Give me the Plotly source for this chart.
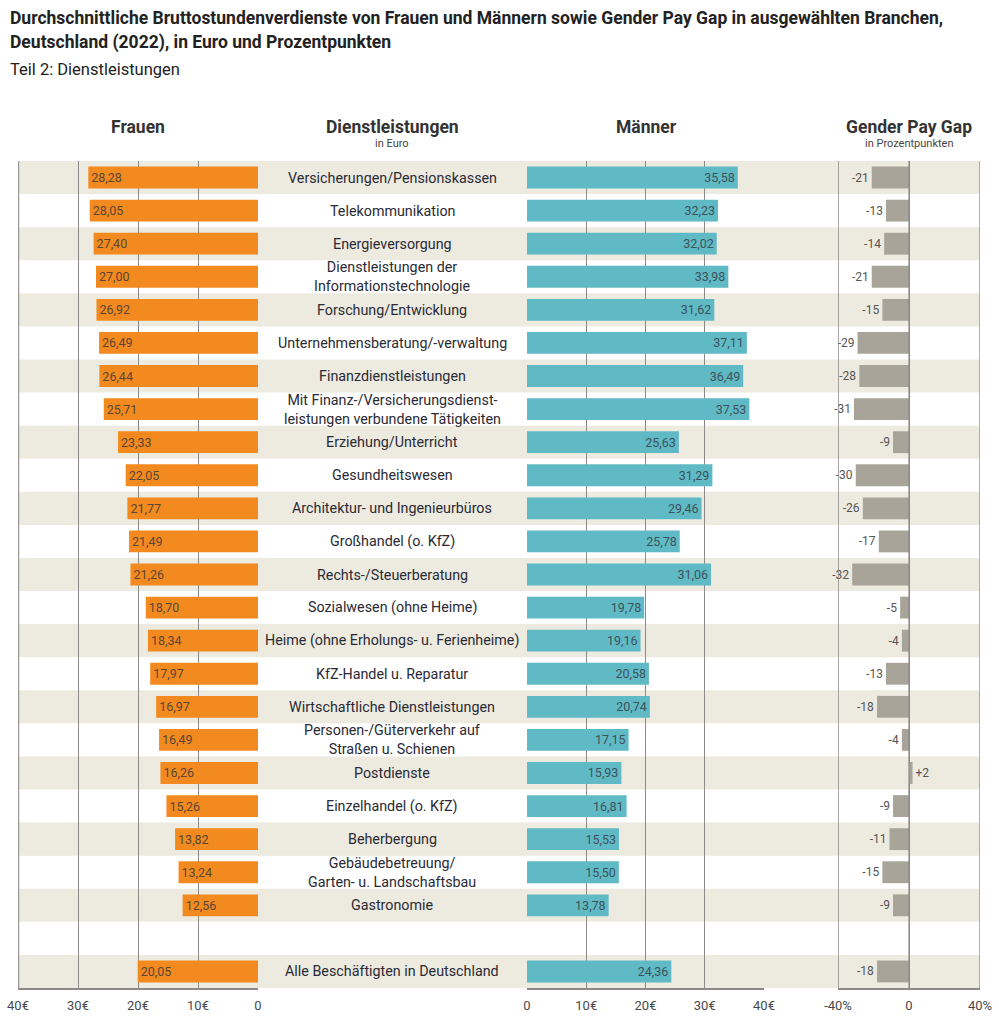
import plotly.graph_objects as go

categories = [
    "Versicherungen/Pensionskassen",
    "Telekommunikation",
    "Energieversorgung",
    "Dienstleistungen der<br>Informationstechnologie",
    "Forschung/Entwicklung",
    "Unternehmensberatung/-verwaltung",
    "Finanzdienstleistungen",
    "Mit Finanz-/Versicherungsdienst-<br>leistungen verbundene Tätigkeiten",
    "Erziehung/Unterricht",
    "Gesundheitswesen",
    "Architektur- und Ingenieurbüros",
    "Großhandel (o. KfZ)",
    "Rechts-/Steuerberatung",
    "Sozialwesen (ohne Heime)",
    "Heime (ohne Erholungs- u. Ferienheime)",
    "KfZ-Handel u. Reparatur",
    "Wirtschaftliche Dienstleistungen",
    "Personen-/Güterverkehr auf<br>Straßen u. Schienen",
    "Postdienste",
    "Einzelhandel (o. KfZ)",
    "Beherbergung",
    "Gebäudebetreuung/<br>Garten- u. Landschaftsbau",
    "Gastronomie",
    "",
    "Alle Beschäftigten in Deutschland",
]
frauen = [28.28, 28.05, 27.40, 27.00, 26.92, 26.49, 26.44, 25.71, 23.33, 22.05,
          21.77, 21.49, 21.26, 18.70, 18.34, 17.97, 16.97, 16.49, 16.26, 15.26,
          13.82, 13.24, 12.56, None, 20.05]
maenner = [35.58, 32.23, 32.02, 33.98, 31.62, 37.11, 36.49, 37.53, 25.63, 31.29,
           29.46, 25.78, 31.06, 19.78, 19.16, 20.58, 20.74, 17.15, 15.93, 16.81,
           15.53, 15.50, 13.78, None, 24.36]
gap = [-21, -13, -14, -21, -15, -29, -28, -31, -9, -30, -26, -17, -32, -5, -4,
       -13, -18, -4, 2, -9, -11, -15, -9, None, -18]

euro_ticks_left = [40, 30, 20, 10, 0]
euro_ticks_right = [0, 10, 20, 30, 40]
euro_ticktext_left = ["40€", "30€", "20€", "10€", "0"]
euro_ticktext_right = ["0", "10€", "20€", "30€", "40€"]
gap_ticks = [-40, 0, 40]
gap_ticktext = ["-40%", "0", "40%"]

FONT = "Roboto, Liberation Sans, sans-serif"
W, H = 999, 1025
TOP, BOT = 161, 988
PH = BOT - TOP

def px(x):
    return x / W

def py(y):
    return (BOT - y) / PH

def de(v):
    return "" if v is None else f"{v:.2f}".replace(".", ",")

def gp(v):
    if v is None:
        return ""
    return f"+{v}" if v > 0 else f"{v}"

idx = list(range(len(categories)))

ORANGE = "#F28A1F"
TEAL = "#5FBAC6"
GREY = "#A8A499"
BEIGE = "#EDEAE0"
GRID = "#8A8A8A"

fig = go.Figure()
fig.add_trace(go.Bar(
    y=idx, x=frauen, orientation="h", xaxis="x", yaxis="y",
    marker=dict(color=ORANGE, line=dict(width=0)), width=0.66,
    text=[de(v) for v in frauen], textposition="inside", insidetextanchor="end",
    textfont=dict(family=FONT, size=12.5, color="#5a4636"), showlegend=False,
    hoverinfo="skip",
))
fig.add_trace(go.Bar(
    y=idx, x=maenner, orientation="h", xaxis="x2", yaxis="y",
    marker=dict(color=TEAL, line=dict(width=0)), width=0.66,
    text=[de(v) for v in maenner], textposition="inside", insidetextanchor="end",
    textfont=dict(family=FONT, size=12.5, color="#3d5259"), showlegend=False,
    hoverinfo="skip",
))
fig.add_trace(go.Bar(
    y=idx, x=gap, orientation="h", xaxis="x3", yaxis="y",
    marker=dict(color=GREY, line=dict(width=0)), width=0.66,
    text=[gp(v) for v in gap], textposition="outside",
    textfont=dict(family=FONT, size=12, color="#555555"), showlegend=False,
    cliponaxis=False, hoverinfo="skip",
))

axis_common = dict(
    showgrid=True, gridcolor=GRID, gridwidth=1, zeroline=False,
    showline=True, linecolor="#8a8a8a", linewidth=1.5, ticks="",
    tickfont=dict(family=FONT, size=13, color="#4a4a4a"), fixedrange=True,
    automargin=False, ticklabelstandoff=5,
)
fig.update_layout(
    width=W, height=H, autosize=False,
    margin=dict(l=0, r=0, t=TOP, b=H - BOT, autoexpand=False),
    paper_bgcolor="white", plot_bgcolor="rgba(0,0,0,0)",
    bargap=0.3,
    xaxis=dict(domain=[px(18), px(258)], range=[40, 0], tickmode="array",
               tickvals=euro_ticks_left, ticktext=euro_ticktext_left, anchor="y",
               **axis_common),
    xaxis2=dict(domain=[px(527), px(764)], range=[0, 40], tickmode="array",
                tickvals=euro_ticks_right, ticktext=euro_ticktext_right, anchor="y",
                **axis_common),
    xaxis3=dict(domain=[px(838), px(980)], range=[-40, 40], tickmode="array",
                tickvals=gap_ticks, ticktext=gap_ticktext, anchor="y",
                **axis_common),
    yaxis=dict(range=[len(idx) - 0.5, -0.5], showticklabels=False, showgrid=False,
               zeroline=False, showline=False, ticks="", fixedrange=True,
               automargin=False),
    font=dict(family=FONT),
)

shapes = []
for i in idx:
    if i % 2 == 0:
        shapes.append(dict(type="rect", xref="paper", yref="y",
                           x0=px(18), x1=px(980), y0=i - 0.5, y1=i + 0.5,
                           fillcolor=BEIGE, line=dict(width=0), layer="below"))
# panel borders
shapes.append(dict(type="line", xref="x", yref="paper", x0=40, x1=40, y0=0, y1=1,
                   line=dict(color="#9a9a9a", width=2.5), layer="above"))
shapes.append(dict(type="line", xref="x3", yref="paper", x0=40, x1=40, y0=0, y1=1,
                   line=dict(color="#9a9a9a", width=1.5), layer="above"))
shapes.append(dict(type="line", xref="x3", yref="paper", x0=-40, x1=-40, y0=0, y1=1,
                   line=dict(color="#8a8a8a", width=1.5), layer="above"))
shapes.append(dict(type="line", xref="x3", yref="paper", x0=0, x1=0, y0=0, y1=1,
                   line=dict(color="#8a8a8a", width=1.2), layer="above"))
fig.update_layout(shapes=shapes)

ann = []
for i, c in zip(idx, categories):
    if c:
        ann.append(dict(xref="paper", yref="y", x=px(392), y=i, text=c,
                        showarrow=False, xanchor="center", yanchor="middle",
                        font=dict(family=FONT, size=14.3, color="#2a2a35")))

# titles
ann.append(dict(xref="paper", yref="paper", x=px(8), y=py(18), xanchor="left",
                yanchor="middle", showarrow=False,
                text="<b>Durchschnittliche Bruttostundenverdienste von Frauen und Männern sowie Gender Pay Gap in ausgewählten Branchen,</b>",
                font=dict(family=FONT, size=17.5, color="#222222")))
ann.append(dict(xref="paper", yref="paper", x=px(8), y=py(42), xanchor="left",
                yanchor="middle", showarrow=False,
                text="<b>Deutschland (2022), in Euro und Prozentpunkten</b>",
                font=dict(family=FONT, size=17.5, color="#222222")))
ann.append(dict(xref="paper", yref="paper", x=px(8), y=py(70), xanchor="left",
                yanchor="middle", showarrow=False,
                text="Teil 2: Dienstleistungen",
                font=dict(family=FONT, size=16.5, color="#222222")))

# headers
for xx, t in [(138, "Frauen"), (392, "Dienstleistungen"), (646, "Männer"), (909, "Gender Pay Gap")]:
    ann.append(dict(xref="paper", yref="paper", x=px(xx), y=py(127), xanchor="center",
                    yanchor="middle", showarrow=False, text=f"<b>{t}</b>",
                    font=dict(family=FONT, size=17.5, color="#333333")))
for xx, t in [(392, "in Euro"), (909, "in Prozentpunkten")]:
    ann.append(dict(xref="paper", yref="paper", x=px(xx), y=py(143), xanchor="center",
                    yanchor="middle", showarrow=False, text=t,
                    font=dict(family=FONT, size=11, color="#444444")))

fig.update_layout(annotations=ann)
fig.write_html(
    "out.html",
    config={"responsive": False, "displayModeBar": False},
    post_script="document.body.style.margin='0';document.body.style.overflow='hidden';",
)
